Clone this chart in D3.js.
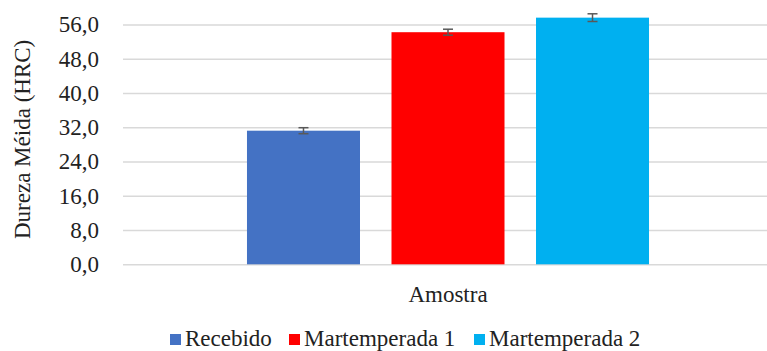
<!DOCTYPE html>
<html>
<head>
<meta charset="utf-8">
<script src="https://cdn.jsdelivr.net/npm/d3@7"></script>
<style>
  html, body { margin: 0; padding: 0; background: #fff; }
  svg { display: block; }
</style>
</head>
<body>
<svg id="chart" width="767" height="351"></svg>
<script>
// Hardness measurements per sample condition
const categories = ["Amostra"];
const seriesNames = ["Recebido", "Martemperada 1", "Martemperada 2"];
const seriesValues = [31.2, 54.2, 57.6];
const seriesErrors = [0.7, 0.7, 0.9];
const seriesColors = ["#4472c4", "#ff0000", "#00b0f0"];
const yTicks = [0, 8, 16, 24, 32, 40, 48, 56];
const yTitle = "Dureza Méida (HRC)";

const FONT = "23px";
const FAMILY = "'Liberation Serif', 'Times New Roman', serif";
const svg = d3.select("#chart");
const plot = { left: 123, right: 773, top: 24.5, bottom: 264.3 };

// Serif text styling applied inline
function serif(sel) {
  return sel.style("font-family", FAMILY, "important")
    .style("font-size", FONT, "important")
    .attr("fill", "#222");
}

const y = d3.scaleLinear().domain([0, 56]).range([plot.bottom, plot.top]);
const x0 = d3.scaleBand().domain(categories).range([plot.left, plot.right]).padding(0.2357);
const x1 = d3.scaleBand().domain(seriesNames).range([0, x0.bandwidth()])
  .paddingInner(0.218).paddingOuter(0);

// Horizontal gridlines with tick labels
const yAxis = d3.axisLeft(y).tickValues(yTicks)
  .tickFormat(d => d3.format(".1f")(d).replace(".", ","))
  .tickSize(-(plot.right - plot.left)).tickPadding(24);
const gy = svg.append("g").attr("transform", `translate(${plot.left},0)`).call(yAxis);
gy.select(".domain").remove();
gy.selectAll(".tick line").attr("stroke", "#d9d9d9").attr("stroke-width", 1.5);
serif(gy.selectAll(".tick text"));

// Bars
const rows = seriesNames.map((name, i) => ({
  cat: categories[0], name, value: seriesValues[i], err: seriesErrors[i], color: seriesColors[i]
}));
const group = svg.append("g");
group.selectAll("rect.bar").data(rows).join("rect")
  .attr("class", "bar")
  .attr("x", d => x0(d.cat) + x1(d.name))
  .attr("y", d => y(d.value))
  .attr("width", x1.bandwidth())
  .attr("height", d => y(0) - y(d.value))
  .attr("fill", d => d.color);

// Error bars
const eb = group.selectAll("g.err").data(rows).join("g").attr("class", "err")
  .attr("transform", d => `translate(${x0(d.cat) + x1(d.name) + x1.bandwidth() / 2},0)`);
eb.append("line").attr("x1", 0).attr("x2", 0)
  .attr("y1", d => y(d.value + d.err)).attr("y2", d => y(d.value - d.err))
  .attr("stroke", "#595959").attr("stroke-width", 1.5);
eb.append("line").attr("x1", -5).attr("x2", 5)
  .attr("y1", d => y(d.value + d.err)).attr("y2", d => y(d.value + d.err))
  .attr("stroke", "#595959").attr("stroke-width", 1.5);
eb.append("line").attr("x1", -5).attr("x2", 5)
  .attr("y1", d => y(d.value - d.err)).attr("y2", d => y(d.value - d.err))
  .attr("stroke", "#595959").attr("stroke-width", 1.5);

// Category label
serif(svg.append("text")
  .attr("x", x0(categories[0]) + x0.bandwidth() / 2).attr("y", 302)
  .attr("text-anchor", "middle")
  .text(categories[0]));

// Y axis title
serif(svg.append("text")
  .attr("transform", `translate(30,${(plot.top + plot.bottom) / 2 - 5}) rotate(-90)`)
  .attr("text-anchor", "middle")
  .text(yTitle));

// Legend
const legendX = [170, 289, 474];
const legend = svg.append("g");
const items = legend.selectAll("g").data(rows).join("g")
  .attr("transform", (d, i) => `translate(${legendX[i]},0)`);
items.append("rect").attr("x", 0).attr("y", 334).attr("width", 11).attr("height", 11)
  .attr("fill", d => d.color);
serif(items.append("text").attr("x", 15).attr("y", 346).text(d => d.name));
</script>
</body>
</html>
